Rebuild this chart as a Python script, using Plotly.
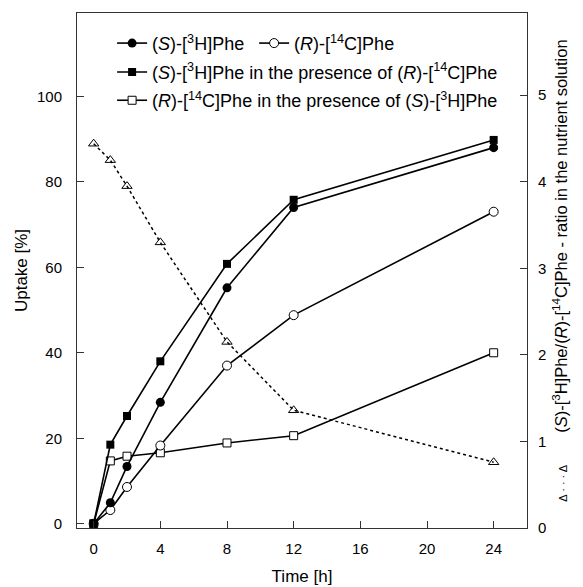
import plotly.graph_objects as go

time_h = [0, 1, 2, 4, 8, 12, 24]
s_phe = [0, 4.9, 13.4, 28.4, 55.2, 74.0, 88.0]
r_phe = [0, 3.2, 8.6, 18.3, 37.0, 48.8, 73.0]
s_phe_with_r = [0, 18.5, 25.2, 38.0, 60.8, 75.8, 89.8]
r_phe_with_s = [0, 14.7, 15.8, 16.6, 18.9, 20.6, 40.0]
ratio_sr = [4.44, 4.25, 3.95, 3.30, 2.15, 1.36, 0.76]

name_s = "(<i>S</i>)-[<sup>3</sup>H]Phe"
name_r = "(<i>R</i>)-[<sup>14</sup>C]Phe"
name_s_r = "(<i>S</i>)-[<sup>3</sup>H]Phe in the presence of (<i>R</i>)-[<sup>14</sup>C]Phe"
name_r_s = "(<i>R</i>)-[<sup>14</sup>C]Phe in the presence of (<i>S</i>)-[<sup>3</sup>H]Phe"

FONT = "Liberation Sans, Arial, sans-serif"
lw = 1.6

fig = go.Figure()
fig.add_trace(go.Scatter(x=time_h, y=ratio_sr, yaxis="y2", mode="lines+markers",
                         line=dict(color="black", width=1.5, dash="dot"),
                         marker=dict(symbol="triangle-up-open", size=9, color="black", line=dict(width=1)),
                         showlegend=False))
fig.add_trace(go.Scatter(x=time_h, y=r_phe_with_s, name=name_r_s, mode="lines+markers",
                         line=dict(color="black", width=lw),
                         marker=dict(symbol="square", size=8, color="white", line=dict(color="black", width=1)),
                         legend="legend3"))
fig.add_trace(go.Scatter(x=time_h, y=r_phe, name=name_r, mode="lines+markers",
                         line=dict(color="black", width=lw),
                         marker=dict(symbol="circle", size=9, color="white", line=dict(color="black", width=1)),
                         legend="legend"))
fig.add_trace(go.Scatter(x=time_h, y=s_phe_with_r, name=name_s_r, mode="lines+markers",
                         line=dict(color="black", width=lw),
                         marker=dict(symbol="square", size=8, color="black"),
                         legend="legend2"))
fig.add_trace(go.Scatter(x=time_h, y=s_phe, name=name_s, mode="lines+markers",
                         line=dict(color="black", width=lw),
                         marker=dict(symbol="circle", size=9, color="black"),
                         legend="legend"))

axis_common = dict(showline=True, linecolor="#333", linewidth=1, ticks="inside", ticklen=7,
                   tickcolor="#333", showgrid=False, zeroline=False, automargin=False,
                   tickfont=dict(size=15, color="black", family=FONT))

leg_common = dict(bgcolor="rgba(0,0,0,0)", font=dict(size=18, color="black", family=FONT),
                  xanchor="left", yanchor="middle", itemwidth=30, orientation="h")

right_title = ("<span style='font-size:11px'>Δ · · · Δ</span>\u00a0\u00a0\u00a0\u00a0\u00a0\u00a0\u00a0"
               "(<i>S</i>)-[<sup>3</sup>H]Phe/(<i>R</i>)-[<sup>14</sup>C]Phe - ratio in the nutrient solution")

fig.update_layout(
    width=583, height=587,
    margin=dict(l=69, r=64, t=5, b=67),
    paper_bgcolor="white", plot_bgcolor="white",
    font=dict(family=FONT, size=15, color="black"),
    xaxis=dict(range=[-1, 26], tickvals=[0, 4, 8, 12, 16, 20, 24], mirror=True,
               ticklabelstandoff=7,
               title=dict(text="Time [h]", font=dict(size=17), standoff=14), **axis_common),
    yaxis=dict(range=[-1, 119.5], tickvals=[0, 20, 40, 60, 80, 100], mirror=False,
               ticklabelstandoff=11,
               title=dict(text="Uptake [%]", font=dict(size=17), standoff=5), **axis_common),
    yaxis2=dict(range=[0, 5.95], tickvals=[0, 1, 2, 3, 4, 5], overlaying="y", side="right",
                ticklabelstandoff=7,
                title=dict(text=right_title, font=dict(size=16.5, color="black"), standoff=10),
                **axis_common),
    legend=dict(x=0.078, y=0.941, traceorder="reversed", entrywidth=97, **leg_common),
    legend2=dict(x=0.078, y=0.885, **leg_common),
    legend3=dict(x=0.078, y=0.830, **leg_common),
)
fig.write_html("out.html")
